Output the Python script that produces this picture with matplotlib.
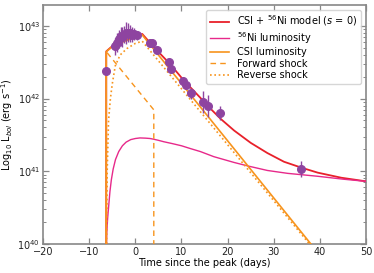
import numpy as np
import matplotlib.pyplot as plt

# observed points: days since peak, log10 L, error (dex)
obs_t = [-6.3, -4.4, -4.0, -3.6, -3.2, -2.8, -2.4, -2.0, -1.6, -1.2, -0.8, -0.3, 0.4,
         3.1, 3.6, 4.7, 7.25, 7.8, 10.4, 10.9, 11.96, 14.7, 15.7, 18.3, 35.9]
obs_logL = [42.385, 42.72, 42.77, 42.82, 42.86, 42.85, 42.88, 42.90, 42.91, 42.90, 42.88, 42.89, 42.87,
            42.77, 42.76, 42.67, 42.50, 42.41, 42.24, 42.19, 42.07, 41.955, 41.90, 41.80, 41.03]
obs_err = [0.03, 0.12, 0.13, 0.12, 0.13, 0.14, 0.12, 0.15, 0.13, 0.12, 0.10, 0.08, 0.06,
           0.05, 0.05, 0.04, 0.05, 0.05, 0.05, 0.05, 0.07, 0.15, 0.15, 0.10, 0.11]

# model curves (log10 L)
total_t = [-6.3, -6.3, -4.5, 1.5, 4.0, 7.6, 10.5, 14.1, 16.3, 18.5, 21.4, 25.0, 28.6,
           32.2, 35.9, 39.5, 44.6, 50.0]
total_logL = [39.5, 42.65, 42.75, 42.89, 42.71, 42.47, 42.25, 42.01, 41.86, 41.72, 41.56, 41.39, 41.25,
              41.13, 41.05, 40.98, 40.91, 40.86]

ni_t = [-6.3, -6.2, -6.0, -5.8, -5.5, -5.2, -4.8, -4.3, -3.6, -2.8, -2.0, -1.0, 0.0, 1.0, 2.2,
        3.2, 4.0, 5.0, 6.2, 8.0, 10.0, 12.0, 14.1, 17.0, 21.4, 24.5, 28.6, 33.0, 39.5, 45.0, 50.0]
ni_logL = [39.9, 40.15, 40.35, 40.5, 40.72, 40.88, 41.03, 41.16, 41.27, 41.35, 41.40, 41.435, 41.45, 41.458, 41.455,
           41.45, 41.44, 41.425, 41.405, 41.38, 41.35, 41.31, 41.27, 41.20, 41.12, 41.07, 41.01, 40.97, 40.93, 40.89, 40.86]

csi_t = [-6.3, -6.3, -4.5, 1.5, 38.5]
csi_logL = [39.5, 42.646, 42.74, 42.876, 39.96]

fs_t = [-6.3, -6.3, 4.0, 4.0]
fs_logL = [39.5, 42.646, 41.845, 39.5]

rs_t = [-6.3, -6.1, -5.8, -5.4, -5.0, -4.35, -3.3, -1.8, 0.0, 1.5, 38.2]
rs_logL = [39.5, 41.0, 41.7, 42.0, 42.2, 42.45, 42.6, 42.69, 42.76, 42.79, 39.96]

RED = '#e8202a'
PINK = '#e7298a'
ORANGE = '#f7941d'
PURPLE = '#8e44a0'

plt.rcParams['font.family'] = 'DejaVu Sans'
plt.rcParams['font.size'] = 7

fig = plt.figure(figsize=(3.74, 2.73), dpi=100)
ax = fig.add_axes([0.115, 0.107, 0.864, 0.875])

ax.plot(total_t, 10**np.array(total_logL), color=RED, lw=1.3, label=r'CSI + $^{56}$Ni model ($s$ = 0)', zorder=3)
ax.plot(ni_t, 10**np.array(ni_logL), color=PINK, lw=1.0, label=r'$^{56}$Ni luminosity', zorder=3)
ax.plot(csi_t, 10**np.array(csi_logL), color=ORANGE, lw=1.2, label='CSI luminosity', zorder=4)
ax.plot(fs_t, 10**np.array(fs_logL), color=ORANGE, lw=1.0, ls=(0, (4, 3)), label='Forward shock', zorder=4)
ax.plot(rs_t, 10**np.array(rs_logL), color=ORANGE, lw=1.2, ls=(0, (1, 1.6)), label='Reverse shock', zorder=4)

L = 10**np.array(obs_logL)
e = np.array(obs_err)
yerr = [L - L * 10**(-e), L * 10**e - L]
ax.errorbar(obs_t, L, yerr=yerr, fmt='o', color=PURPLE, ms=5.5, elinewidth=1.0, capsize=0, zorder=5)

ax.set_yscale('log')
ax.set_xlim(-20, 50)
ax.set_ylim(1e40, 1.95e43)
ax.set_xticks(np.arange(-20, 51, 10))
ax.set_xticklabels(['\u221220', '\u221210', '0', '10', '20', '30', '40', '50'])

ax.set_xlabel('Time since the peak (days)', fontsize=7, labelpad=1)
ax.set_ylabel(r'Log$_{10}$ L$_{bol}$ (erg s$^{-1}$)', fontsize=7, labelpad=2)

for sp in ax.spines.values():
    sp.set_color('#888888')
    sp.set_linewidth(1.2)
ax.tick_params(which='both', direction='in', top=True, right=True, color='#888888', labelcolor='#222222')
ax.tick_params(which='major', length=4, width=0.9, labelsize=7, pad=2)
ax.tick_params(which='minor', length=2, width=0.7)

leg = ax.legend(loc='upper right', fontsize=7, frameon=True, fancybox=True,
                handlelength=2.0, borderpad=0.4, labelspacing=0.15, borderaxespad=0.5)
leg.get_frame().set_edgecolor('#cccccc')

fig.savefig('out.png', dpi=100)
